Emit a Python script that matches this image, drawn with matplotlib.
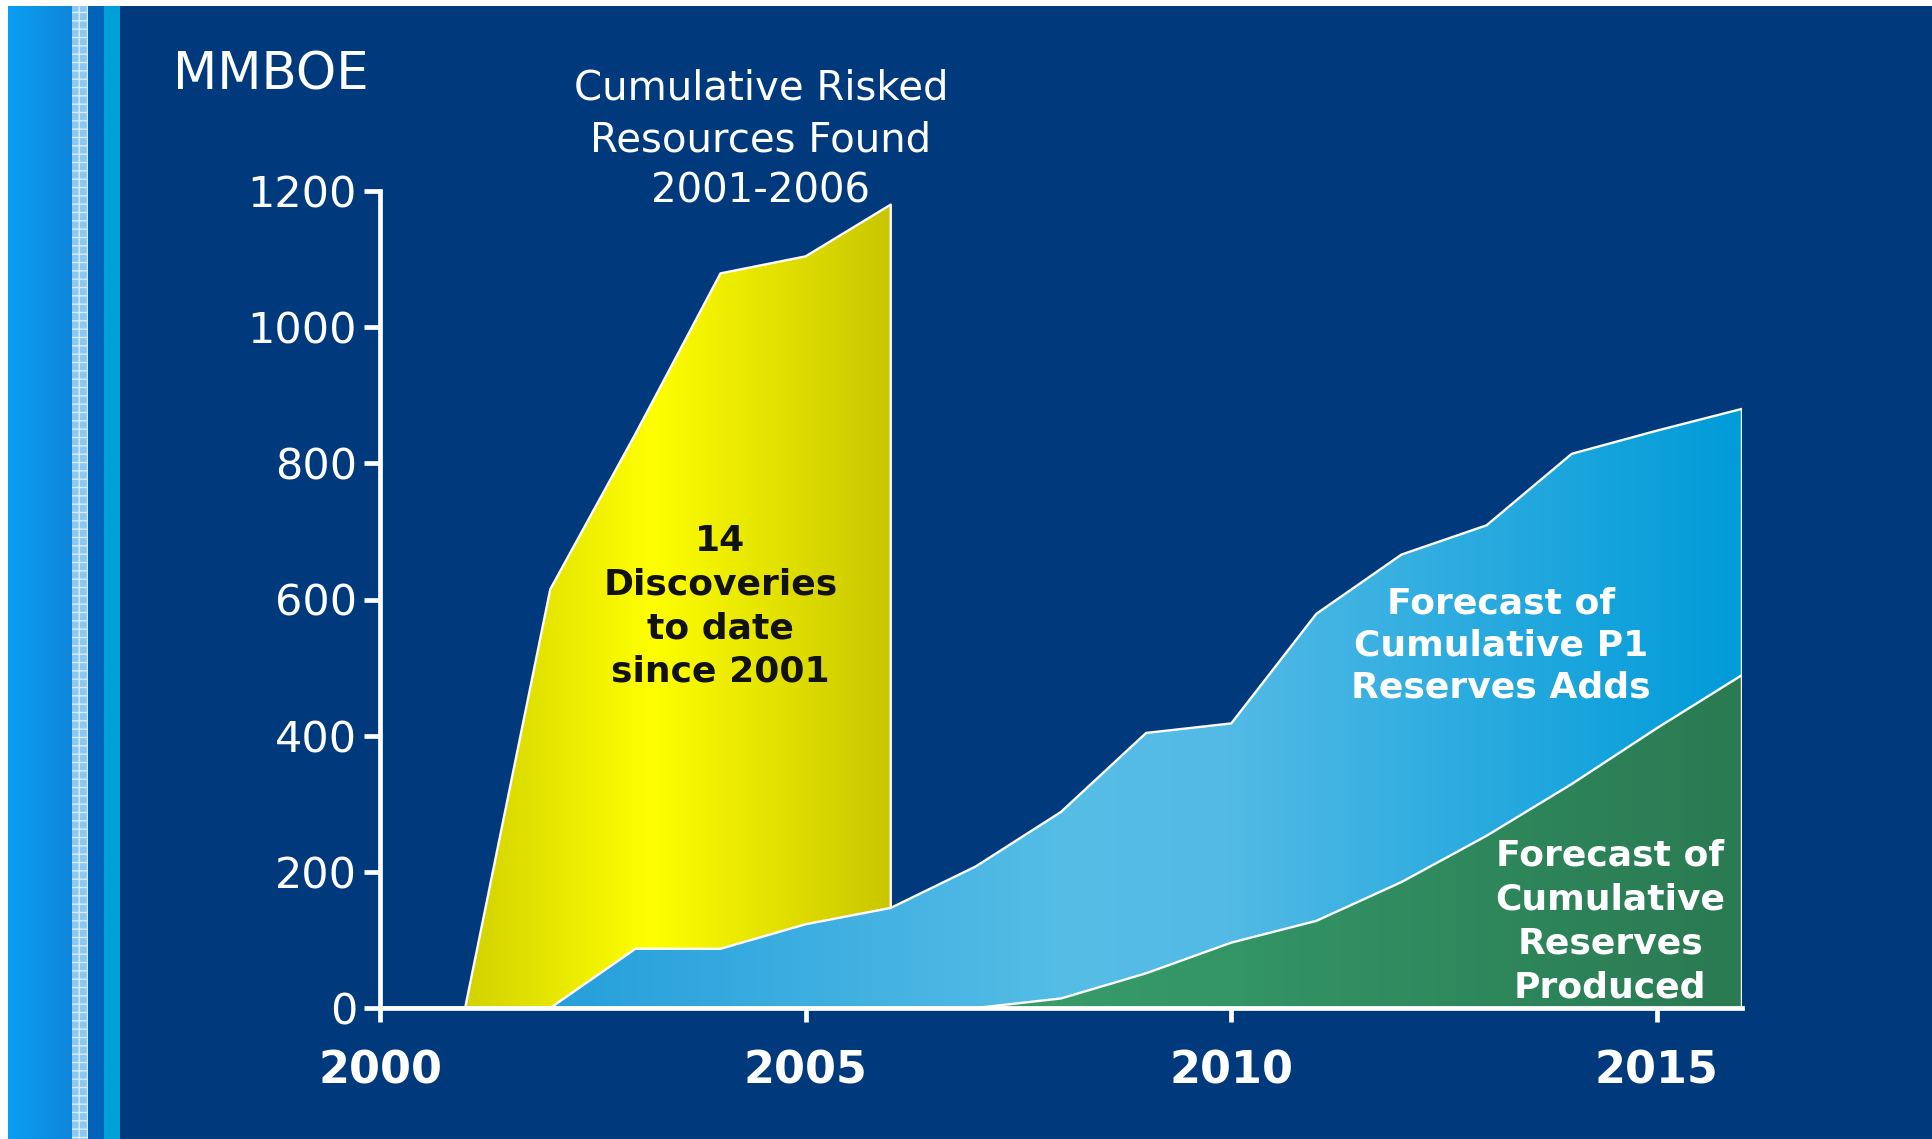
import numpy as np
import matplotlib
matplotlib.use("Agg")
import matplotlib.pyplot as plt
from matplotlib.colors import LinearSegmentedColormap
from matplotlib.patches import Rectangle

# values (MMBOE)
found_years = [2000, 2001, 2002, 2003, 2004, 2005, 2006]
found_mmboe = [0, 0, 615, 843, 1079, 1104, 1180]

forecast_years = [2000, 2001, 2002, 2003, 2004, 2005, 2006, 2007, 2008,
                  2009, 2010, 2011, 2012, 2013, 2014, 2015, 2016]
p1_adds = [0, 0, 0, 87, 87, 123, 147, 208, 288,
           404, 418, 579, 666, 709, 814, 848, 880]
produced = [0, 0, 0, 0, 0, 0, 0, 0, 14,
            51, 96, 128, 185, 253, 329, 411, 489]

y_ticks = [0, 200, 400, 600, 800, 1000, 1200]
x_ticks = [2000, 2005, 2010, 2015]

NAVY = "#003a7d"
W, H = 1933, 1139


def gradient_area(ax, x, y, stops, z):
    x = np.asarray(x, float)
    y = np.asarray(y, float)
    poly = ax.fill_between(x, 0, y, facecolor="none", edgecolor="white",
                           linewidth=1.7, zorder=z + 0.1)
    cmap = LinearSegmentedColormap.from_list("g", stops)
    grad = np.linspace(0, 1, 512).reshape(1, -1)
    im = ax.imshow(grad, cmap=cmap, aspect="auto", origin="lower",
                   extent=[x[y > 0].min() - 1, x.max(), 0, 1200], zorder=z)
    im.set_clip_path(poly.get_paths()[0], transform=ax.transData)


fig = plt.figure(figsize=(W / 100, H / 100), dpi=100, facecolor="white")

# slide background with the left-hand stripes
bg = fig.add_axes([0, 0, 1, 1], zorder=-1)
bg.axis("off")
bg.add_patch(Rectangle((120, 6), W - 120, H - 6, facecolor=NAVY, lw=0))
stripe = LinearSegmentedColormap.from_list("s", ["#0a9ef0", "#0f86dc"])
bg.imshow(np.linspace(0, 1, 64).reshape(1, -1), cmap=stripe, aspect="auto",
          extent=[8, 72, H, 6])
bg.add_patch(Rectangle((72, 6), 16, H - 6, facecolor="#8cc8f0",
                       edgecolor="#d8eefc", hatch="++", lw=0))
bg.add_patch(Rectangle((88, 6), 16, H - 6, facecolor="#0062b8", lw=0))
bg.add_patch(Rectangle((104, 6), 16, H - 6, facecolor="#00a0d8", lw=0))
bg.set_xlim(0, W)
bg.set_ylim(H, 0)

bg.text(173, 76, "MMBOE", fontsize=37, color="white", ha="left", va="center")
bg.text(761, 140, "Cumulative Risked\nResources Found\n2001-2006",
        fontsize=29, color="white", ha="center", va="center",
        linespacing=1.38)

# main chart
ax = fig.add_axes([380 / W, 1 - 1008 / H, 1362 / W, 817 / H])
ax.set_facecolor("none")

gradient_area(ax, found_years, found_mmboe,
              [(0, "#d2d200"), (0.44, "#ffff00"), (1, "#c9c600")], 1)
gradient_area(ax, forecast_years, p1_adds,
              [(0, "#259fdb"), (0.43, "#55bde6"), (0.57, "#52bae5"),
               (1, "#009bd9")], 2)
gradient_area(ax, forecast_years, produced,
              [(0, "#3a9e6c"), (0.35, "#339466"), (1, "#2a7a52")], 3)

ax.set_xlim(2000, 2016)
ax.set_ylim(0, 1200)
ax.set_xticks(x_ticks)
ax.set_yticks(y_ticks)

for side in ["top", "right"]:
    ax.spines[side].set_visible(False)
for side in ["left", "bottom"]:
    ax.spines[side].set_color("white")
    ax.spines[side].set_linewidth(3.4)
    ax.spines[side].set_zorder(5)

ax.tick_params(axis="y", colors="white", width=3.4, length=11.5, pad=5,
               labelsize=31)
ax.tick_params(axis="x", colors="white", width=3.4, length=10, pad=20,
               labelsize=32)
for lbl in ax.get_xticklabels():
    lbl.set_fontweight("bold")

ax.text(2004.0, 590, "14\nDiscoveries\nto date\nsince 2001", fontsize=26,
        fontweight="bold", color="#111111", ha="center", va="center",
        linespacing=1.36, zorder=6)
ax.text(2013.17, 533, "Forecast of\nCumulative P1\nReserves Adds", fontsize=26,
        fontweight="bold", color="white", ha="center", va="center",
        linespacing=1.3, zorder=6)
ax.text(2014.45, 127, "Forecast of\nCumulative\nReserves\nProduced",
        fontsize=26, fontweight="bold", color="white", ha="center",
        va="center", linespacing=1.36, zorder=6)

fig.savefig("out.png", dpi=100, facecolor=fig.get_facecolor())
